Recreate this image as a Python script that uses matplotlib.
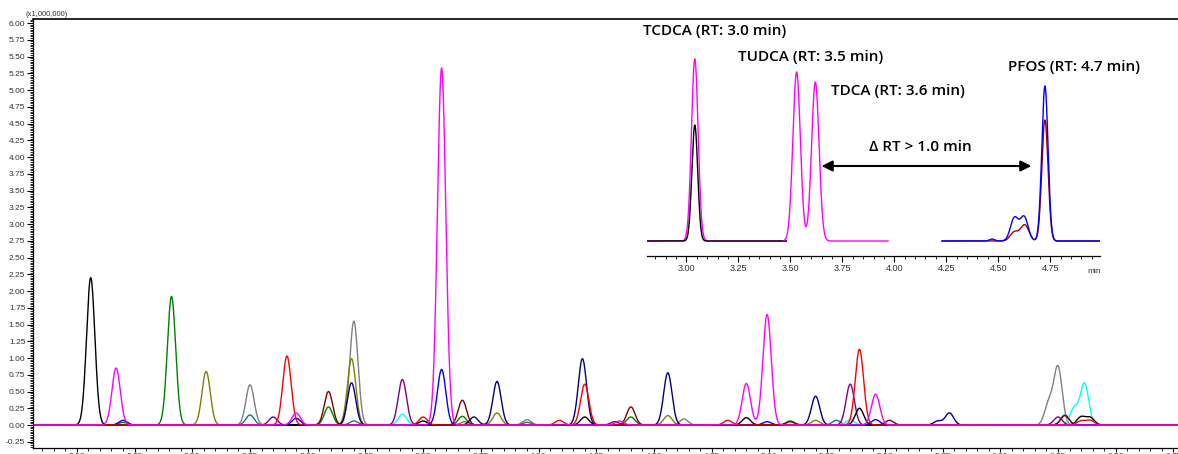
import numpy as np
import matplotlib.pyplot as plt
from matplotlib.ticker import MultipleLocator, FormatStrFormatter

W, H = 1178, 454

# ---- main chromatogram: retention time (min) and height (x1,000,000) per trace
black_rt = [2.06, 3.50, 4.20, 4.90, 5.39, 6.35, 6.39]
black_h = [2.20, 0.06, 0.12, 0.11, 0.25, 0.12, 0.11]
magenta_rt = [2.17, 2.95, 3.58, 4.35, 4.90, 4.99, 5.46]
magenta_h = [0.85, 0.18, 5.33, 0.06, 0.62, 1.65, 0.46]
blue_rt = [2.20, 2.95, 3.58, 4.99, 5.46]
blue_h = [0.07, 0.10, 0.83, 0.05, 0.08]
green_rt = [2.20, 2.41, 3.09, 3.67, 4.40, 5.09]
green_h = [0.04, 1.92, 0.27, 0.13, 0.12, 0.06]
olive_rt = [2.56, 3.19, 3.68, 3.82, 4.56, 5.20]
olive_h = [0.80, 0.99, 0.05, 0.18, 0.14, 0.07]
gray_rt = [2.75, 3.20, 3.95, 4.63, 6.21, 6.25]
gray_h = [0.60, 1.55, 0.08, 0.09, 0.32, 0.86]
teal_rt = [2.75, 3.20, 3.95, 5.29, 6.28]
teal_h = [0.15, 0.06, 0.04, 0.07, 0.15]
purple_rt = [2.85, 3.41, 4.33, 5.35, 6.25]
purple_h = [0.12, 0.68, 0.05, 0.61, 0.12]
red_rt = [2.91, 3.50, 4.09, 4.20, 4.82, 5.39, 6.35, 6.39]
red_h = [1.03, 0.12, 0.07, 0.61, 0.07, 1.13, 0.06, 0.07]
maroon_rt = [3.09, 3.67, 4.40, 5.09, 5.52, 6.28]
maroon_h = [0.50, 0.37, 0.27, 0.05, 0.07, 0.14]
navy_rt = [3.19, 3.72, 3.82, 4.19, 4.56, 5.20, 5.73, 5.78]
navy_h = [0.63, 0.12, 0.65, 0.99, 0.78, 0.43, 0.06, 0.18]
cyan_rt = [3.41, 5.35, 6.32, 6.365]
cyan_h = [0.16, 0.08, 0.25, 0.62]

# ---- inset chromatogram (relative intensity), peak widths in min
in_black_rt = [3.04]
in_black_h = [116]
in_mag1_rt = [3.04]
in_mag1_h = [182]
in_mag2_rt = [3.53, 3.62]
in_mag2_h = [169, 159]
in_blue_rt = [4.47, 4.578, 4.625, 4.725]
in_blue_h = [2, 23, 24, 155]
in_blue_w = [0.012, 0.019, 0.019, 0.015]
in_red_rt = [4.578, 4.628, 4.725]
in_red_h = [9, 16, 121]
in_red_w = [0.02, 0.02, 0.015]

inset_labels = ["TCDCA (RT: 3.0 min)", "TUDCA (RT: 3.5 min)",
                "TDCA (RT: 3.6 min)", "PFOS (RT: 4.7 min)"]


def trace(t, rts, hs, sigma):
    sig = np.broadcast_to(np.asarray(sigma, dtype=float), (len(rts),))
    y = np.zeros_like(t)
    for r, h, s in zip(rts, hs, sig):
        y += h * np.exp(-0.5 * ((t - r) / s) ** 2)
    return y


def fx(px):
    return px / W


def fy(py):
    return 1 - py / H


fig = plt.figure(figsize=(W / 100, H / 100), dpi=100)

ax = fig.add_axes([fx(33), fy(448), 1 - fx(33), fy(19) - fy(448)])
t = np.linspace(1.80, 6.80, 6000)
series = [
    ("#808080", gray_rt, gray_h), ("#008080", teal_rt, teal_h),
    ("#808000", olive_rt, olive_h), ("#008000", green_rt, green_h),
    ("#00ffff", cyan_rt, cyan_h), ("#800000", maroon_rt, maroon_h),
    ("#800080", purple_rt, purple_h), ("#000080", navy_rt, navy_h),
    ("#0000ff", blue_rt, blue_h), ("#000000", black_rt, black_h),
    ("#ff0000", red_rt, red_h), ("#ff00ff", magenta_rt, magenta_h),
]
for c, rts, hs in series:
    ax.plot(t, trace(t, rts, hs, 0.018), color=c, lw=1.0)

ax.set_xlim(1.81, 6.77)
ax.set_ylim(-0.343, 6.06)
ax.spines['right'].set_visible(False)
ax.spines['top'].set_linewidth(1.2)
ax.spines['left'].set_linewidth(0.9)
ax.spines['bottom'].set_linewidth(0.9)
ax.yaxis.set_major_locator(MultipleLocator(0.25))
ax.yaxis.set_minor_locator(MultipleLocator(0.025))
ax.yaxis.set_major_formatter(FormatStrFormatter('%.2f'))
ax.xaxis.set_major_locator(MultipleLocator(0.25))
ax.xaxis.set_minor_locator(MultipleLocator(0.05))
ax.xaxis.set_major_formatter(FormatStrFormatter('%.2f'))
ax.tick_params(axis='y', which='major', length=4, width=0.8,
               labelsize=6, labelcolor='#333333', pad=1.5,
               labelfontfamily='Liberation Sans')
ax.tick_params(axis='x', which='major', length=3, width=0.8,
               labelsize=6, labelcolor='#333333', pad=0.3,
               labelfontfamily='Liberation Sans')
ax.tick_params(axis='both', which='minor', length=2.2, width=0.6)
fig.text(fx(26), fy(14), "(x1,000,000)", fontsize=5.5, color='#333333',
         family='Liberation Sans', va='center', ha='left')

# inset
ia = fig.add_axes([fx(647), fy(256), fx(1100) - fx(647), fy(40) - fy(256)])
ia.set_facecolor('none')
seg1 = np.linspace(2.81, 3.48, 800)
seg2 = np.linspace(3.47, 3.97, 600)
seg3 = np.linspace(4.23, 4.99, 800)
ia.plot(seg1, trace(seg1, in_mag1_rt, in_mag1_h, 0.016), color='#ff00ff', lw=1.0)
ia.plot(seg1, trace(seg1, in_black_rt, in_black_h, 0.014), color='#000000', lw=1.0)
ia.plot(seg2, trace(seg2, in_mag2_rt, in_mag2_h, 0.018), color='#ff00ff', lw=1.0)
ia.plot(seg3, trace(seg3, in_red_rt, in_red_h, in_red_w), color='#a00000', lw=1.0)
ia.plot(seg3, trace(seg3, in_blue_rt, in_blue_h, in_blue_w), color='#0000ff', lw=1.0)
ia.set_xlim(2.81, 4.99)
ia.set_ylim(-15, 201)
for s in ['left', 'right', 'top']:
    ia.spines[s].set_visible(False)
ia.spines['bottom'].set_linewidth(0.9)
ia.set_yticks([])
ia.set_xticks([3.00, 3.25, 3.50, 3.75, 4.00, 4.25, 4.50, 4.75])
ia.xaxis.set_major_formatter(FormatStrFormatter('%.2f'))
ia.xaxis.set_minor_locator(MultipleLocator(0.05))
ia.tick_params(axis='x', which='major', length=4, width=0.8, labelsize=6.5,
               labelcolor='#333333', pad=2, labelfontfamily='Liberation Sans')
ia.tick_params(axis='x', which='minor', length=2.5, width=0.6)
ia.text(4.96, -0.055, "min", transform=ia.get_xaxis_transform(), fontsize=6,
        color='#333333', family='Liberation Sans', ha='center', va='top')

ia.annotate('', xy=(4.66, 75), xytext=(3.65, 75),
            arrowprops=dict(arrowstyle='<|-|>', color='black', lw=1.5,
                            mutation_scale=16, shrinkA=0, shrinkB=0))

tfont = dict(fontsize=11, family='Open Sans', weight='semibold', color='black',
             ha='left', va='center')
fig.text(fx(643), fy(31), inset_labels[0], **tfont)
fig.text(fx(738), fy(57), inset_labels[1], **tfont)
fig.text(fx(831), fy(91), inset_labels[2], **tfont)
fig.text(fx(1008), fy(67), inset_labels[3], **tfont)
fig.text(fx(869), fy(147), "Δ RT > 1.0 min", **tfont)

fig.savefig("out.png", dpi=100)
